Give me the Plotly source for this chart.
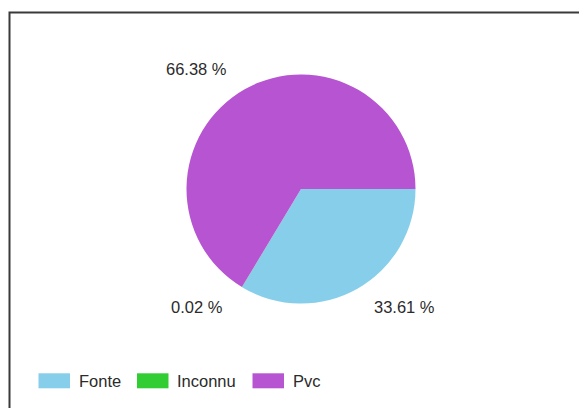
import plotly.graph_objects as go

# Data
categories = ["Fonte", "Inconnu", "Pvc"]
percentages = [33.61, 0.02, 66.38]
colors = ["#87CEEB", "#32CD32", "#B754D1"]

W, H = 579, 408

def px(x):
    return x / W

def py(y):
    return 1 - y / H

# Pie geometry (pixels)
cx, cy, r = 301, 189, 114.5

fig = go.Figure()
fig.add_trace(go.Pie(
    labels=categories,
    values=percentages,
    marker=dict(colors=colors, line=dict(width=0)),
    sort=False,
    direction="clockwise",
    rotation=90,
    textinfo="none",
    hoverinfo="label+percent",
    showlegend=False,
    domain=dict(x=[px(cx - r), px(cx + r)], y=[py(cy + r), py(cy - r)]),
))

font = dict(family="Liberation Sans, Arial, sans-serif", size=16.5, color="#2b2b2b")

annotations = []
# Slice labels (Fonte, Inconnu, Pvc)
label_pos = [(404, 307), (197, 307), (196, 69)]
for (x, y), v in zip(label_pos, percentages):
    annotations.append(dict(
        x=px(x), y=py(y), xref="paper", yref="paper",
        text=f"{v:.2f} %", showarrow=False, font=font,
        xanchor="center", yanchor="middle",
    ))

# Custom legend
shapes = []
legend_x = [38.5, 137, 252.5]
sw_w, sw_y0, sw_y1 = 31.5, 373.3, 388.3
for x, name, col in zip(legend_x, categories, colors):
    shapes.append(dict(
        type="rect", xref="paper", yref="paper",
        x0=px(x), x1=px(x + sw_w), y0=py(sw_y1), y1=py(sw_y0),
        fillcolor=col, line=dict(width=0),
    ))
    annotations.append(dict(
        x=px(x + sw_w + 6.5), y=py((sw_y0 + sw_y1) / 2), xref="paper", yref="paper",
        text=name, showarrow=False, font=font,
        xanchor="left", yanchor="middle",
    ))

# Frame border
shapes.append(dict(
    type="rect", xref="paper", yref="paper",
    x0=px(9.5), y1=py(12.5), x1=px(W + 20), y0=py(H + 20),
    line=dict(color="#3a3a3a", width=2), fillcolor="rgba(0,0,0,0)",
))

fig.update_layout(
    width=W, height=H,
    margin=dict(l=0, r=0, t=0, b=0),
    paper_bgcolor="white",
    plot_bgcolor="white",
    annotations=annotations,
    shapes=shapes,
)

fig.write_html(
    "out.html",
    config={"displayModeBar": False},
    post_script="document.body.style.margin='0';document.body.style.overflow='hidden';",
)
